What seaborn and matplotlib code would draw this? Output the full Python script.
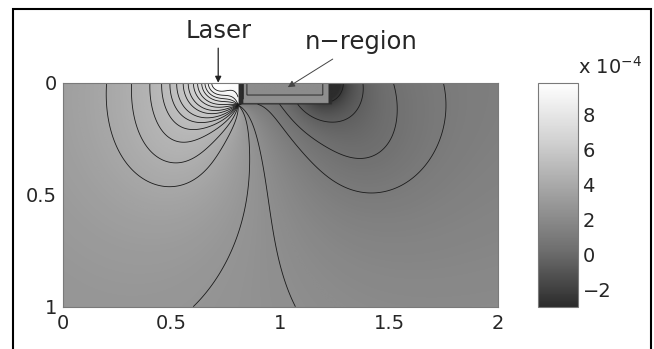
import numpy as np
import matplotlib
matplotlib.use("Agg")
import matplotlib.pyplot as plt
import seaborn as sns
from matplotlib.patches import Rectangle

# field model (potential in units of 1e-4)
# point sources: laser spot, broad laser bulk, sink at the n-region end, broad sink
src_x = [0.715, 0.55, 1.20, 1.38]
src_y = [0.0, 0.30, 0.0, 0.28]
src_q = [0.25, 0.50, -0.40, -0.40]
src_core = [0.05, 0.30, 0.04, 0.28]
src_top_mirror = [True, True, True, False]
src_side_mirror = [True, False, True, False]
wall_x = 0.807             # left wall of the n-region (junction)
wall_depth = 0.10
wall_jump = 5.0
depth_gradient = 0.3
width_gradient = 0.12
background = 1.85
laser_x = 0.715
nregion_box = [0.807, 1.236, 0.0, 0.095]      # x0, x1, y0, y1
nregion_edges = [0.022, 0.015, 0.006]          # dark rim: left, right, bottom
nregion_core = 2.45
nregion_tilt = -5.0
nregion_rim = -4.0

# points the contour lines pass through
line_x = [0.202, 0.317, 0.401, 0.455, 0.493, 0.524, 0.554, 0.577, 0.601,
          0.620, 0.639, 0.654, 0.669, 0.685, 0.60, 1.07, 1.75, 1.52, 1.38, 1.29]
line_y = [0.0, 0.0, 0.0, 0.0, 0.0, 0.0, 0.0, 0.0, 0.0,
          0.0, 0.0, 0.0, 0.0, 0.0, 1.0, 1.0, 0.0, 0.0, 0.0, 0.0]
inner_line_d = 0.04        # depth of the U-shaped line inside the n-region

cbar_ticks = [-2, 0, 2, 4, 6, 8]
cbar_labels = ["\u22122", "0", "2", "4", "6", "8"]
clim = [-2.95, 9.78]
x_ticks = [0, 0.5, 1, 1.5, 2]
x_labels = ["0", "0.5", "1", "1.5", "2"]
y_ticks = [0, 0.5, 1]
y_labels = ["0", "0.5", "1"]
gray_stops = ["#2c2c2c", "#6e6e6e", "#a0a0a0", "#d3d3d3", "#ffffff"]


def outside_field(X, Y):
    phi = background + depth_gradient * Y + width_gradient * X
    for sx, sy, q, c, top, side in zip(src_x, src_y, src_q, src_core,
                                       src_top_mirror, src_side_mirror):
        xs_img = (sx, -sx, 4 - sx) if side else (sx,)
        ys_img = {sy, -sy} if top else {sy}
        for px in xs_img:
            for py in ys_img:
                phi = phi + q / np.sqrt((X - px) ** 2 + (Y - py) ** 2 + c ** 2)
    a_top = np.arctan2(wall_depth - Y, wall_x - X)
    a_bot = np.arctan2(-wall_depth - Y, wall_x - X)
    th = np.angle(np.exp(1j * (a_top - a_bot)))
    return phi + wall_jump * th / np.pi


def nregion_field(X, Y):
    x0, x1, y0, y1 = nregion_box
    dl, dr, db = X - x0, x1 - X, y1 - Y
    d = np.minimum(np.minimum(dl, dr), db)
    v = nregion_core + nregion_tilt * np.minimum(d, 0.06)
    rim = (dl < nregion_edges[0]) | (dr < nregion_edges[1]) | (db < nregion_edges[2])
    return np.where(rim, nregion_rim, v), d


xs = np.linspace(0, 2, 1001)
ys = np.linspace(0, 1, 501)
X, Y = np.meshgrid(xs, ys)
phi_out = outside_field(X, Y)
phi_n, d_n = nregion_field(X, Y)
x0, x1, y0, y1 = nregion_box
inside = (X >= x0) & (X <= x1) & (Y <= y1)
phi = np.where(inside, phi_n, phi_out)

levels = np.unique(np.round(outside_field(np.array(line_x), np.array(line_y)), 5))
inner_level = nregion_core + nregion_tilt * inner_line_d

sns.set_theme(style="white")
plt.rcParams["font.family"] = ["DejaVu Sans"]

fig = plt.figure(figsize=(6.54, 3.49), dpi=100)
ax = fig.add_axes([62.7 / 654, 1 - 306.7 / 349, 435 / 654, 224 / 349])
cmap = sns.blend_palette(gray_stops, as_cmap=True)
im = ax.imshow(np.clip(phi, clim[0], clim[1]), extent=[0, 2, 1, 0], cmap=cmap,
               vmin=clim[0], vmax=clim[1], aspect="auto", interpolation="bilinear")
ax.contour(xs, ys, np.ma.masked_where(inside, phi_out), levels=levels,
           colors="#1a1a1a", linewidths=0.6, negative_linestyles="solid")
ax.contour(xs, ys, np.ma.masked_where(~inside | (d_n < 0.02), phi_n),
           levels=[inner_level], colors="#1a1a1a", linewidths=0.6)
ax.set_xlim(0, 2)
ax.set_ylim(1, 0)
ax.set_xticks(x_ticks)
ax.set_xticklabels(x_labels)
ax.set_yticks(y_ticks)
ax.set_yticklabels(y_labels)
ax.tick_params(axis="x", labelsize=14, length=0, pad=5)
ax.tick_params(axis="y", labelsize=14, length=0, pad=4)
for s in ax.spines.values():
    s.set_color("#7a7a7a")
    s.set_linewidth(0.8)

ax.annotate("Laser", xy=(laser_x, 0.0), xytext=(laser_x, -0.175),
            ha="center", va="bottom", fontsize=17.5, annotation_clip=False,
            arrowprops=dict(arrowstyle="-|>", color="#222222", lw=0.9,
                            mutation_scale=9, shrinkA=1, shrinkB=0))
ax.annotate("n\u2212region", xy=(1.035, 0.02), xytext=(1.37, -0.13),
            ha="center", va="bottom", fontsize=17.5, annotation_clip=False,
            arrowprops=dict(arrowstyle="-|>", color="#444444", lw=0.7,
                            mutation_scale=10, shrinkA=3, shrinkB=0))

cax = fig.add_axes([538.3 / 654, 1 - 306.7 / 349, 40 / 654, 224 / 349])
cb = fig.colorbar(im, cax=cax)
cb.set_ticks(cbar_ticks)
cb.set_ticklabels(cbar_labels)
cax.tick_params(labelsize=14, direction="in", left=True, right=True, length=3,
                color="#555555", pad=3)
cb.outline.set_edgecolor("#7a7a7a")
cb.outline.set_linewidth(0.8)
cax.text(1.0, 1.02, "x 10$^{\u22124}$", transform=cax.transAxes, ha="left",
         va="bottom", fontsize=14)

fig.add_artist(Rectangle((13 / 654, -0.1), (651 - 13) / 654, 1.1 - 9.3 / 349,
                         transform=fig.transFigure, fill=False,
                         edgecolor="black", lw=1.5))

fig.savefig("out.png", dpi=100)
